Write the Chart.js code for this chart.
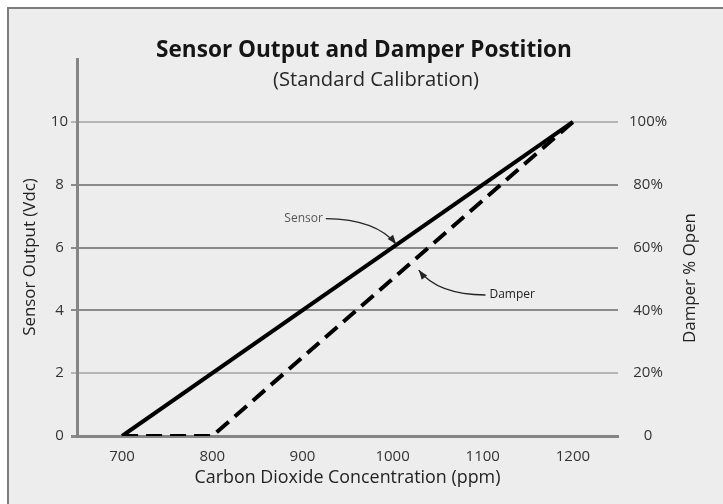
<!DOCTYPE html>
<html>
<head>
<meta charset="utf-8">
<script src="https://cdn.jsdelivr.net/npm/chart.js@4.4.1/dist/chart.umd.min.js"></script>
<style>
  html, body { margin: 0; padding: 0; background: #fff; }
  #frame { position: absolute; left: 7px; top: 7px; width: 800px; height: 600px;
           background: #ededed; border: 2px solid #7c7c7c; }
  #wrap { position: absolute; left: 0; top: 0; width: 723px; height: 504px; }
</style>
</head>
<body>
<div id="frame"></div>
<div id="wrap"><canvas id="chart" width="723" height="504"></canvas></div>
<script>
// data
const sensorPpm = [700, 1200];
const sensorVdc = [0, 10];
const damperPpm = [700, 800, 1200];
const damperPct = [0, 0, 100];
const xTicks = [700, 800, 900, 1000, 1100, 1200];
const vdcTicks = [0, 2, 4, 6, 8, 10];
const pctTicks = [0, 20, 40, 60, 80, 100];

const FONT = '"Open Sans"';
const DARK = '#8a8a8a', LIGHT = '#b5b5b5';

// pick a font size so a text gets the width it has in the picture
const mctx = document.createElement('canvas').getContext('2d');
function fit(text, weight, width) {
  mctx.font = weight + ' 20px ' + FONT;
  return 20 * width / mctx.measureText(text).width;
}
const TITLE = 'Sensor Output and Damper Postition';
const SUB = '(Standard Calibration)';
const XTITLE = 'Carbon Dioxide Concentration (ppm)';
const YTITLE = 'Sensor Output (Vdc)';
const Y2TITLE = 'Damper % Open';
const axisTitleSize = fit(Y2TITLE, 'normal', 130);

const annotate = {
  id: 'annotate',
  afterDraw(chart) {
    const c = chart.ctx, x = chart.scales.x, y = chart.scales.y;
    const P = (a, b) => [x.getPixelForValue(a), y.getPixelForValue(b)];
    c.save();
    c.textAlign = 'center';
    c.textBaseline = 'alphabetic';
    c.fillStyle = '#151515';
    c.font = 'bold ' + fit(TITLE, 'bold', 416) + 'px ' + FONT;
    c.fillText(TITLE, 364, 57);
    c.fillStyle = '#262626';
    c.font = fit(SUB, 'normal', 206) + 'px ' + FONT;
    c.fillText(SUB, 376, 86);

    // axis titles, both reading upward
    c.textBaseline = 'middle';
    c.font = axisTitleSize + 'px ' + FONT;
    c.fillStyle = '#222';
    [[YTITLE, 30, 257], [Y2TITLE, 690, 278]].forEach(([t, tx, ty]) => {
      c.save();
      c.translate(tx, ty);
      c.rotate(-Math.PI / 2);
      c.fillText(t, 0, 0);
      c.restore();
    });

    function arrow(from, ctrl, tip) {
      c.beginPath();
      c.moveTo(from[0], from[1]);
      c.quadraticCurveTo(ctrl[0], ctrl[1], tip[0], tip[1]);
      c.strokeStyle = '#222';
      c.lineWidth = 1.4;
      c.stroke();
      const ang = Math.atan2(tip[1] - ctrl[1], tip[0] - ctrl[0]);
      c.beginPath();
      c.moveTo(tip[0], tip[1]);
      c.lineTo(tip[0] - 10 * Math.cos(ang - 0.35), tip[1] - 10 * Math.sin(ang - 0.35));
      c.lineTo(tip[0] - 10 * Math.cos(ang + 0.35), tip[1] - 10 * Math.sin(ang + 0.35));
      c.closePath();
      c.fillStyle = '#222';
      c.fill();
    }
    c.font = '12px ' + FONT;
    c.fillStyle = '#555';
    c.textAlign = 'right';
    const s = P(926, 6.92);
    c.fillText('Sensor', s[0] - 3, s[1]);
    arrow(s, P(982, 6.9), P(1004, 6.1));
    c.textAlign = 'left';
    const d = P(1103, 4.49);
    c.fillText('Damper', d[0] + 4, d[1]);
    arrow(d, P(1050, 4.5), P(1029, 5.28));
    c.restore();
  }
};

new Chart(document.getElementById('chart'), {
  type: 'scatter',
  data: {
    datasets: [
      {
        label: 'Sensor',
        data: sensorPpm.map((v, i) => ({ x: v, y: sensorVdc[i] })),
        showLine: true,
        borderColor: '#000',
        borderWidth: 4,
        pointRadius: 0,
        yAxisID: 'y'
      },
      {
        label: 'Damper',
        data: damperPpm.map((v, i) => ({ x: v, y: damperPct[i] })),
        showLine: true,
        borderColor: '#000',
        borderWidth: 4,
        borderDash: [16, 8],
        pointRadius: 0,
        yAxisID: 'y2'
      }
    ]
  },
  options: {
    responsive: false,
    animation: false,
    layout: { padding: { top: 59, left: 0, right: 0, bottom: 0 } },
    plugins: { legend: { display: false }, tooltip: { enabled: false } },
    scales: {
      x: {
        type: 'linear',
        min: 650, max: 1250,
        afterBuildTicks: s => { s.ticks = xTicks.map(v => ({ value: v })); },
        afterFit: s => { s.height = 68; },
        grid: { display: false },
        border: { color: '#858585', width: 3 },
        ticks: { padding: 4, color: '#333', font: { family: 'Open Sans', size: 15 },
                 callback: v => String(v) },
        title: { display: true, text: XTITLE, color: '#222',
                 font: { family: 'Open Sans', size: fit(XTITLE, 'normal', 306) },
                 padding: { top: 0, bottom: 15 } }
      },
      y: {
        position: 'left',
        min: 0, max: 12,
        afterBuildTicks: s => { s.ticks = vdcTicks.map(v => ({ value: v })); },
        afterFit: s => { s.width = 77; },
        border: { color: '#858585', width: 3 },
        grid: {
          color: c => (c.tick && (c.tick.value === 2 || c.tick.value === 10)) ? LIGHT : DARK,
          lineWidth: c => (c.tick && c.tick.value === 0) ? 3 : 2,
          tickLength: 6
        },
        ticks: { padding: 3, crossAlign: 'center', color: '#333', font: { family: 'Open Sans', size: 15 } }
      },
      y2: {
        position: 'right',
        min: 0, max: 120,
        afterBuildTicks: s => { s.ticks = pctTicks.map(v => ({ value: v })); },
        afterFit: s => { s.width = 105; },
        border: { display: false },
        grid: { display: false },
        ticks: { padding: 3, crossAlign: 'center', color: '#333', font: { family: 'Open Sans', size: 15 },
                 callback: v => v === 0 ? '0' : v + '%' }
      }
    }
  },
  plugins: [annotate]
});
</script>
</body>
</html>
